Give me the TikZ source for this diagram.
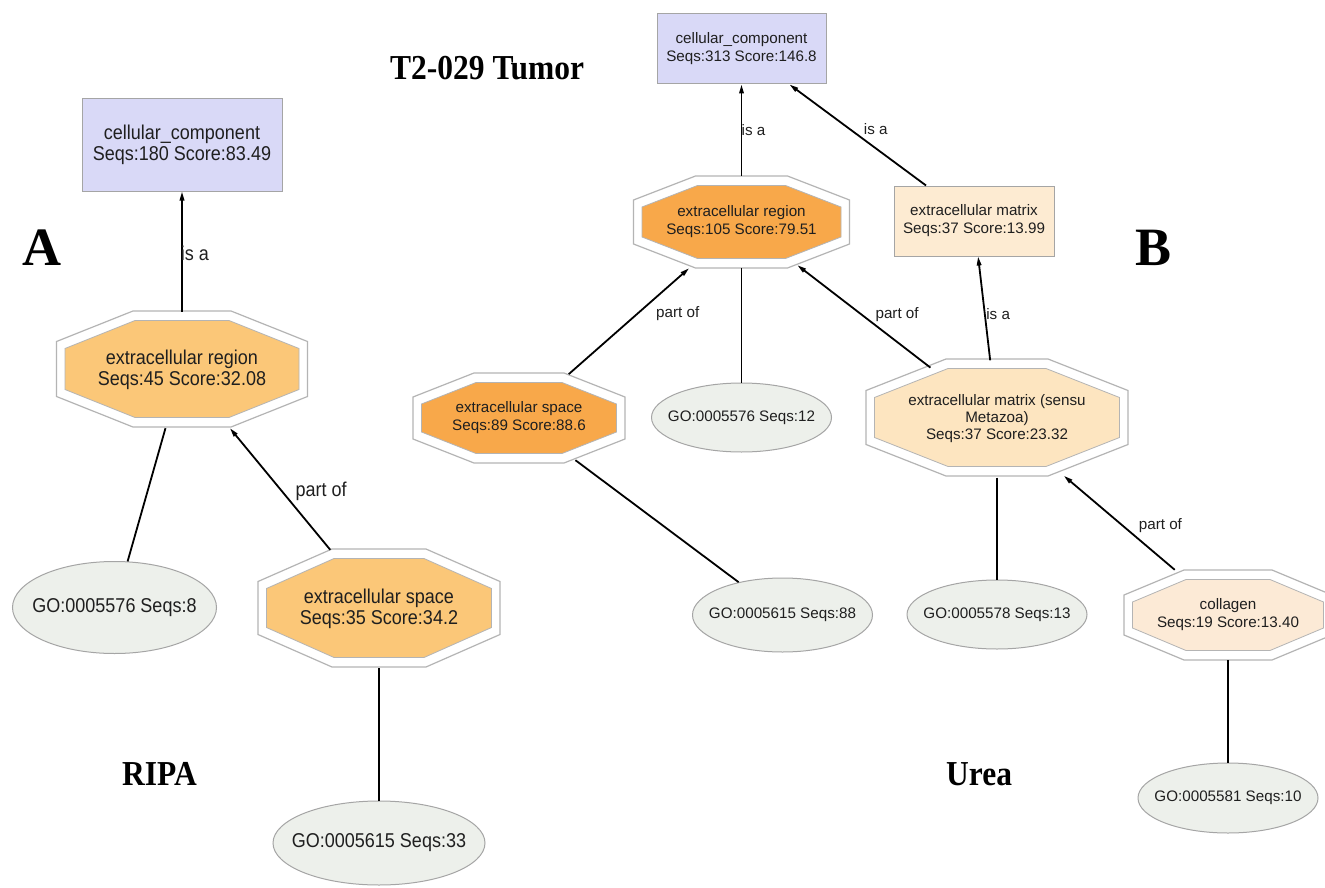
\documentclass[tikz,border=0pt]{standalone}
\usepackage{fontspec}
\setmainfont{Liberation Sans}
\newfontfamily\narrowsans[FakeStretch=0.9]{Liberation Sans}
\newfontfamily\tagfont{Liberation Serif}
\newfontfamily\tagnarrow[FakeStretch=0.9]{Liberation Serif}
\usetikzlibrary{arrows.meta,shapes.geometric}

\definecolor{rootfill}{RGB}{217,217,247}
\definecolor{boxline}{RGB}{165,165,165}
\definecolor{octline}{RGB}{180,180,180}
\definecolor{leaffill}{RGB}{237,240,235}
\definecolor{lightorange}{RGB}{251,199,120}
\definecolor{deeporange}{RGB}{248,168,74}
\definecolor{peach}{RGB}{253,229,192}
\definecolor{paleapricot}{RGB}{252,234,214}
\definecolor{matrixfill}{RGB}{253,235,210}

% GO-term octagon: centre (#1,#2), half width #3, half height #4,
% half length of top edge #5, half length of side edge #6, fill #7
\newcommand{\gvoctagon}[7]{%
  \draw[octline, line width=1.2pt, fill=white]
    (#1-#5,#2-#4) -- (#1+#5,#2-#4) -- (#1+#3,#2-#6) -- (#1+#3,#2+#6) --
    (#1+#5,#2+#4) -- (#1-#5,#2+#4) -- (#1-#3,#2+#6) -- (#1-#3,#2-#6) -- cycle;
  \draw[octline, line width=0.8pt, fill=#7]
    (#1-#5+2,#2-#4+9.5) -- (#1+#5-2,#2-#4+9.5) -- (#1+#3-8.5,#2-#6+7) --
    (#1+#3-8.5,#2+#6-7) -- (#1+#5-2,#2+#4-9.5) -- (#1-#5+2,#2+#4-9.5) --
    (#1-#3+8.5,#2+#6-7) -- (#1-#3+8.5,#2-#6+7) -- cycle;
}

\tikzset{
  fontA/.style={font=\narrowsans\fontsize{20}{21.5}\selectfont},
  fontB/.style={font=\fontsize{15.2}{18}\selectfont},
  termbox/.style={rectangle, draw=boxline, line width=1pt, fill=rootfill,
    align=center, inner sep=0pt, text=black!88},
  octbox/.style={rectangle, inner sep=0pt, align=center, text=black!88},
  leafnode/.style={ellipse, draw=boxline, line width=1pt, fill=leaffill,
    inner xsep=-60pt, inner ysep=-40pt, text=black!88},
  link/.style={line width=1.8pt, black},
  rel/.style={link, -{Triangle[length=9pt,width=4.5pt]}},
  lbl/.style={inner sep=0pt, text=black!88},
  panelmark/.style={font=\tagnarrow\bfseries\fontsize{35}{38}\selectfont,
    anchor=base west, inner sep=0pt},
  bigmark/.style={font=\tagfont\bfseries\fontsize{54}{60}\selectfont,
    anchor=base west, inner sep=0pt},
}

\begin{document}
\begin{tikzpicture}[x=1pt, y=-1pt]
\useasboundingbox (0,0) rectangle (1325,888);
\clip (0,0) rectangle (1325,888);
\fill[white] (0,0) rectangle (1325,888);

% ---------------- panel A (RIPA) ----------------
\node[termbox, fontA, minimum width=200pt, minimum height=92pt] (ccA) at (182,145)
  {cellular\_component\\Seqs:180 Score:83.49};

\gvoctagon{182}{369}{125.5}{58}{49}{27.5}{lightorange}
\node[octbox, fontA, minimum width=251pt, minimum height=116pt] (erA) at (182,370)
  {extracellular region\\Seqs:45 Score:32.08};

\gvoctagon{379}{608}{121}{59}{47}{26.5}{lightorange}
\node[octbox, fontA, minimum width=242pt, minimum height=118pt] (esA) at (379,609)
  {extracellular space\\Seqs:35 Score:34.2};

\node[leafnode, fontA, minimum width=204pt, minimum height=92pt] (goA1) at (114.5,607.5)
  {GO:0005576 Seqs:8};
\node[leafnode, fontA, minimum width=212pt, minimum height=84pt] (goA2) at (379,843)
  {GO:0005615 Seqs:33};

\draw[rel] (erA) -- node[lbl, fontA, xshift=13pt, yshift=-1.5pt] {is a} (ccA);
\draw[link] (erA) -- (goA1);
\draw[rel] (esA) -- node[lbl, fontA, xshift=41pt, yshift=-2pt] {part of} (erA);
\draw[link] (esA) -- (goA2);

% ---------------- panel B (Urea) ----------------
\node[termbox, fontB, minimum width=169pt, minimum height=70pt] (ccB) at (741.5,49)
  {cellular\_component\\Seqs:313 Score:146.8};

\gvoctagon{741.5}{222}{108}{46}{46}{22}{deeporange}
\node[octbox, fontB, minimum width=216pt, minimum height=92pt] (erB) at (741.5,222)
  {extracellular region\\Seqs:105 Score:79.51};

\node[termbox, fill=matrixfill, fontB, minimum width=160pt, minimum height=70pt] (emB) at (974,221)
  {extracellular matrix\\Seqs:37 Score:13.99};

\gvoctagon{519}{418}{106}{45}{45}{21}{deeporange}
\node[octbox, fontB, minimum width=212pt, minimum height=90pt] (esB) at (519,418)
  {extracellular space\\Seqs:89 Score:88.6};

\gvoctagon{997}{417.5}{131}{58.5}{51}{27}{peach}
\node[octbox, font=\fontsize{15.2}{17}\selectfont, minimum width=262pt, minimum height=117pt] (emsB) at (997,419)
  {extracellular matrix (sensu\\Metazoa)\\Seqs:37 Score:23.32};

\gvoctagon{1228}{615}{104}{45}{44}{20}{paleapricot}
\node[octbox, fontB, minimum width=208pt, minimum height=90pt] (colB) at (1228,615)
  {collagen\\Seqs:19 Score:13.40};

\node[leafnode, fontB, minimum width=180pt, minimum height=69pt] (goB1) at (741.5,417.5)
  {GO:0005576 Seqs:12};
\node[leafnode, fontB, minimum width=180pt, minimum height=74pt] (goB2) at (782.5,615)
  {GO:0005615 Seqs:88};
\node[leafnode, fontB, minimum width=180pt, minimum height=69pt] (goB3) at (997,614.5)
  {GO:0005578 Seqs:13};
\node[leafnode, fontB, minimum width=180pt, minimum height=70pt] (goB4) at (1228,798)
  {GO:0005581 Seqs:10};

\draw[rel] (erB) -- node[lbl, fontB, xshift=12pt] {is a} (ccB);
\draw[rel] (emB) -- node[lbl, fontB, xshift=18pt, yshift=6pt] {is a} (ccB);
\draw[link] (erB) -- (goB1);
\draw[rel, shorten <=-2pt] (esB) -- node[lbl, fontB, xshift=48pt, yshift=7pt] {part of} (erB);
\draw[link, shorten <=-5pt] (esB) -- (goB2);
\draw[rel, shorten <=-12pt, shorten >=-5pt] (emsB) -- node[lbl, fontB, xshift=36pt] {part of} (erB);
\draw[rel] (emsB) -- node[lbl, fontB, xshift=14pt, yshift=-5.5pt] {is a} (emB);
\draw[link] (emsB) -- (goB3);
\draw[rel, shorten >=-3pt] (colB) -- node[lbl, fontB, xshift=40pt, yshift=-2pt] {part of} (emsB);
\draw[link] (colB) -- (goB4);

% ---------------- panel tags ----------------
\node[bigmark] (tagA) at (22,265) {A};
\node[bigmark] (tagB) at (1135,265) {B};
\node[panelmark] (title) at (390,80) {T2-029 Tumor};
\node[panelmark] (ripa) at (122,785) {RIPA};
\node[panelmark] (urea) at (946,785) {Urea};
\end{tikzpicture}
\end{document}
